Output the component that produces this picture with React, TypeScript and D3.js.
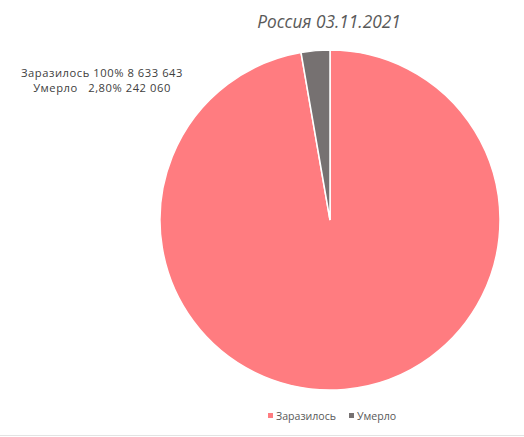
import { useEffect, useRef } from "react";
import * as d3 from "d3";

const categories = ["Заразилось", "Умерло"];
const values = [8633643, 242060];
const labelLines = ["Заразилось 100% 8 633 643", "Умерло   2,80% 242 060"];
const colors = ["#FF7C80", "#767171"];
const title = "Россия 03.11.2021";

export default function App() {
    const ref = useRef<SVGSVGElement | null>(null);

    useEffect(() => {
        const width = 524;
        const height = 437;
        const cx = 330;
        const cy = 220;
        const radius = 170;

        const svg = d3.select(ref.current);
        svg.selectAll("*").remove();

        svg.append("rect")
            .attr("width", width)
            .attr("height", height)
            .attr("fill", "#fff");

        // bottom border of the chart area
        svg.append("line")
            .attr("x1", 0)
            .attr("x2", width)
            .attr("y1", 435.5)
            .attr("y2", 435.5)
            .attr("stroke", "#e3e3e3");

        svg.append("text")
            .attr("x", cx - 1)
            .attr("y", 28)
            .attr("text-anchor", "middle")
            .attr("font-family", "'Open Sans', sans-serif")
            .attr("font-style", "italic")
            .attr("font-size", 17.3)
            .attr("fill", "#595959")
            .text(title);

        const pie = d3.pie<number>().sort(null).value((d) => d);
        const arc = d3.arc<d3.PieArcDatum<number>>().innerRadius(0).outerRadius(radius);

        svg.append("g")
            .attr("transform", `translate(${cx},${cy})`)
            .selectAll("path")
            .data(pie(values))
            .join("path")
            .attr("d", arc)
            .attr("fill", (_, i) => colors[i])
            .attr("stroke", "#fff")
            .attr("stroke-width", 1.5);

        // data label block on the left
        svg.append("g")
            .selectAll("text")
            .data(labelLines)
            .join("text")
            .attr("x", 102)
            .attr("y", (_, i) => 76.5 + i * 15)
            .attr("text-anchor", "middle")
            .attr("font-family", "'Open Sans', sans-serif")
            .attr("font-size", 11.2)
            .attr("letter-spacing", 0.55)
            .attr("fill", "#404040")
            .attr("xml:space", "preserve")
            .style("white-space", "pre")
            .text((d) => d);

        // legend
        const legendX = [268, 349];
        const legend = svg.append("g")
            .selectAll("g")
            .data(categories)
            .join("g")
            .attr("transform", (_, i) => `translate(${legendX[i]},412)`);
        legend.append("rect")
            .attr("width", 5)
            .attr("height", 5)
            .attr("y", 1)
            .attr("fill", (_, i) => colors[i]);
        legend.append("text")
            .attr("x", 8)
            .attr("y", 8)
            .attr("font-family", "'Open Sans', sans-serif")
            .attr("font-size", 10.6)
            .attr("fill", "#595959")
            .text((d) => d);
    }, []);

    return (
        <svg
            ref={ref}
            width={524}
            height={437}
            style={{ position: "absolute", left: 0, top: 0 }}
        />
    );
}
